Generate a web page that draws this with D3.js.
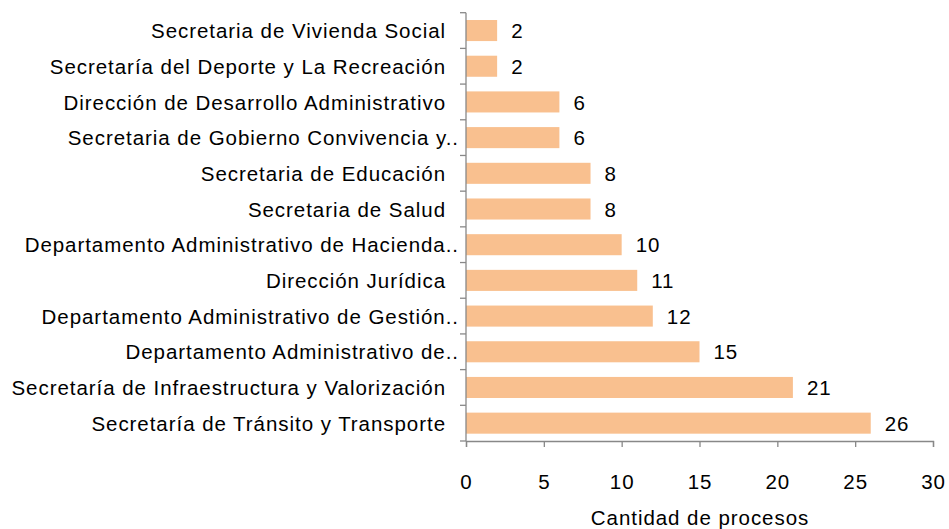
<!DOCTYPE html>
<html>
<head>
<style>
  body { margin: 0; background: #fff; font-family: "Liberation Sans", Arial, sans-serif; }
  .lbl { font-size: 20.5px; fill: #000; letter-spacing: 0.95px; }
</style>
</head>
<body>
<div id="chart"></div>
<script src="https://d3js.org/d3.v7.min.js"></script>
<script>
// categories top to bottom
var categories = [
  "Secretaria de Vivienda Social",
  "Secretaría del Deporte y La Recreación",
  "Dirección de Desarrollo Administrativo",
  "Secretaria de Gobierno Convivencia y..",
  "Secretaria de Educación",
  "Secretaria de Salud",
  "Departamento Administrativo de Hacienda..",
  "Dirección Jurídica",
  "Departamento Administrativo de Gestión..",
  "Departamento Administrativo de..",
  "Secretaría de Infraestructura y Valorización",
  "Secretaría de Tránsito y Transporte"
];
var values = [2, 2, 6, 6, 8, 8, 10, 11, 12, 15, 21, 26];
var xTicks = [0, 5, 10, 15, 20, 25, 30];
var axisTitle = "Cantidad de procesos";

var W = 949, H = 529;
var plotLeft = 466, plotRight = 933, plotTop = 12.7, plotBottom = 441;

var svg = d3.select("#chart").append("svg")
  .attr("width", W).attr("height", H);

var x = d3.scaleLinear().domain([0, 30]).range([plotLeft, plotRight]);
var y = d3.scaleBand().domain(categories).range([plotTop, plotBottom]).paddingInner(0.41).paddingOuter(0.205);

// bars
svg.selectAll("rect.bar").data(values).enter().append("rect")
  .attr("class", "bar")
  .attr("x", x(0))
  .attr("y", function(d, i) { return y(categories[i]); })
  .attr("width", function(d) { return x(d) - x(0); })
  .attr("height", y.bandwidth())
  .attr("fill", "#f9c08f");

// value labels
svg.selectAll("text.val").data(values).enter().append("text")
  .attr("class", "lbl val")
  .attr("x", function(d) { return x(d) + 14; })
  .attr("y", function(d, i) { return y(categories[i]) + y.bandwidth() / 2; })
  .attr("dy", "0.37em")
  .text(function(d) { return d; });

// y axis line and ticks (between categories)
var ax = svg.append("g").attr("stroke", "#888").attr("stroke-width", 1.3).attr("fill", "none");
ax.append("line").attr("x1", plotLeft).attr("x2", plotLeft).attr("y1", plotTop).attr("y2", plotBottom);
var step = (plotBottom - plotTop) / categories.length;
d3.range(categories.length + 1).forEach(function(k) {
  ax.append("line").attr("x1", plotLeft - 6).attr("x2", plotLeft)
    .attr("y1", plotTop + k * step).attr("y2", plotTop + k * step);
});

// x axis
var xAxis = d3.axisBottom(x).tickValues(xTicks).tickSize(6).tickPadding(27);
var gx = svg.append("g").attr("transform", "translate(0," + plotBottom + ")").call(xAxis);
gx.select(".domain").attr("stroke", "#888").attr("stroke-width", 1.3);
gx.selectAll(".tick line").attr("stroke", "#888").attr("stroke-width", 1.3);
gx.selectAll(".tick text").attr("class", "lbl").attr("font-family", null).attr("font-size", null).attr("fill", "#000");

// category labels
svg.selectAll("text.cat").data(categories).enter().append("text")
  .attr("class", "lbl cat")
  .attr("x", function(d) { return d.slice(-2) === ".." ? 459 : 446; })
  .attr("y", function(d) { return y(d) + y.bandwidth() / 2; })
  .attr("dy", "0.37em")
  .attr("text-anchor", "end")
  .text(function(d) { return d; });

// axis title
svg.append("text").attr("class", "lbl")
  .attr("x", 700).attr("y", 525)
  .attr("text-anchor", "middle")
  .text(axisTitle);
</script>
</body>
</html>
